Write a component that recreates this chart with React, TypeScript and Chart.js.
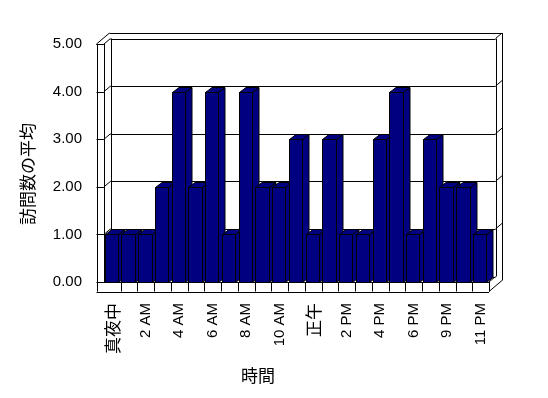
import React, { useEffect, useRef } from "react";
import { Chart, registerables } from "chart.js";

Chart.register(...registerables);

const categories = [
  "真夜中", "1 AM", "2 AM", "3 AM", "4 AM", "5 AM", "6 AM", "7 AM", "8 AM", "9 AM", "10 AM", "11 AM",
  "正午", "1 PM", "2 PM", "3 PM", "4 PM", "5 PM", "6 PM", "7 PM", "9 PM", "10 PM", "11 PM",
];
const visitAverages = [1, 1, 1, 2, 4, 2, 4, 1, 4, 2, 2, 3, 1, 3, 1, 1, 3, 4, 1, 3, 2, 2, 1];
const yTicks = [0, 1, 2, 3, 4, 5];
const yTitle = "訪問数の平均";
const xTitle = "時間";

const LATIN = '"Liberation Sans", Arial, "Noto Sans CJK JP", sans-serif';
const CJK = '"Noto Sans CJK JP", "Liberation Sans", sans-serif';
const NAVY = "#000080";

const snap = (v: number) => Math.round(v) + 0.5;

const excel3d = {
  id: "excel3d",
  beforeDatasetsDraw(chart: any) {
    const { ctx, chartArea: ca, scales } = chart;
    const y = scales.y;
    const L = ca.left, R = ca.right;
    const yT = y.getPixelForValue(yTicks[yTicks.length - 1]);
    const yB = y.getPixelForValue(yTicks[0]);
    const DX = 6.5, DY = -5.5, T = 7.5, F = 9.5;
    ctx.save();
    ctx.strokeStyle = "#000";
    ctx.lineWidth = 1;
    const seg = (x1: number, y1: number, x2: number, y2: number) => {
      ctx.beginPath(); ctx.moveTo(x1, y1); ctx.lineTo(x2, y2); ctx.stroke();
    };
    const hl = (yy: number, x1: number, x2: number) => seg(x1, snap(yy), x2, snap(yy));
    const vl = (xx: number, y1: number, y2: number) => seg(snap(xx), y1, snap(xx), y2);

    // back wall inner face
    hl(yT + DY, L + DX, R + DX);
    vl(L + DX, yT + DY, yB + DY);
    vl(R + DX, yT + DY, yB + DY);
    hl(yB + DY, L + DX, R + DX);
    // outer back
    hl(yT + 2 * DY, L - T + 2 * DX, R + 2 * DX);
    vl(R + 2 * DX, yT + 2 * DY, yB + F + 2 * DY);
    seg(R + DX, yT + DY, R + 2 * DX, yT + 2 * DY);
    // left slab
    vl(L - T, yT, yB + F);
    vl(L, yT, yB);
    hl(yT, L - T, L);
    seg(L - T, yT, L - T + 2 * DX, yT + 2 * DY);
    seg(L, yT, L + DX, yT + DY);
    // gridlines
    yTicks.forEach((v) => {
      const py = y.getPixelForValue(v);
      hl(py, L - T, L);
      if (v > yTicks[0] && v < yTicks[yTicks.length - 1]) {
        hl(py + DY, L + DX, R + DX);
        seg(L, py, L + DX, py + DY);
        seg(R + DX, py + DY, R + 2 * DX, py + 2 * DY);
      }
    });
    // floor
    hl(yB, L, R);
    hl(yB + F, L - T, R);
    vl(R, yB, yB + F);
    const cw = (R - L) / categories.length;
    for (let k = 1; k < categories.length; k++) vl(L + k * cw, yB, yB + F);
    seg(R, yB + F, R + 2 * DX, yB + F + 2 * DY);
    seg(R, yB, R + DX, yB + DY);
    ctx.restore();
  },
  afterDatasetsDraw(chart: any) {
    const { ctx } = chart;
    const meta = chart.getDatasetMeta(0);
    const DX = 6.5, DY = -5;
    ctx.save();
    ctx.strokeStyle = "#000";
    ctx.lineWidth = 1;
    ctx.fillStyle = NAVY;
    meta.data.forEach((el: any) => {
      const w = el.width;
      const xl = Math.round(el.x - w / 2 - 1) + 0.5;
      const xr = Math.round(el.x + w / 2 - 1) + 0.5;
      const top = Math.round(el.y) + 0.5;
      const base = Math.round(el.base) + 0.5;
      ctx.beginPath();
      ctx.rect(xl, top, xr - xl, base - top);
      ctx.fill(); ctx.stroke();
      ctx.beginPath();
      ctx.moveTo(xr, top); ctx.lineTo(xr + DX, top + DY); ctx.lineTo(xr + DX, base + DY); ctx.lineTo(xr, base);
      ctx.closePath(); ctx.fill(); ctx.stroke();
      ctx.beginPath();
      ctx.moveTo(xl, top); ctx.lineTo(xl + DX, top + DY); ctx.lineTo(xr + DX, top + DY); ctx.lineTo(xr, top);
      ctx.closePath(); ctx.fill(); ctx.stroke();
    });
    ctx.restore();
  },
  afterDraw(chart: any) {
    const { ctx } = chart;
    ctx.save();
    ctx.fillStyle = "#000";
    ctx.font = `17px ${CJK}`;
    ctx.textAlign = "center";
    ctx.textBaseline = "middle";
    ctx.fillText(xTitle, 258, 376);
    ctx.translate(28, 174);
    ctx.rotate(-Math.PI / 2);
    ctx.fillText(yTitle, 0, 0);
    ctx.restore();
  },
};

export default function App() {
  const ref = useRef<HTMLCanvasElement | null>(null);
  useEffect(() => {
    if (!ref.current) return;
    const chart = new Chart(ref.current, {
      type: "bar",
      data: {
        labels: categories,
        datasets: [
          {
            label: yTitle,
            data: visitAverages,
            backgroundColor: NAVY,
            borderColor: "#000",
            borderWidth: 1,
            barPercentage: 0.8,
            categoryPercentage: 1,
          },
        ],
      },
      options: {
        responsive: false,
        animation: false,
        devicePixelRatio: 1,
        layout: { padding: { left: 0, top: 44, right: 59, bottom: 0 } },
        plugins: { legend: { display: false }, tooltip: { enabled: false }, title: { display: false } },
        scales: {
          x: {
            grid: { display: false, drawTicks: false },
            border: { display: false },
            ticks: {
              autoSkip: false,
              minRotation: 90,
              maxRotation: 90,
              padding: 21,
              color: "#000",
              font: (c: any) => {
                const lbl = categories[c.index] || "";
                return /[\u3000-\u9fff]/.test(lbl) ? { family: CJK, size: 17 } : { family: LATIN, size: 15 };
              },
              callback: (_v: any, i: number) => (i % 2 === 0 ? categories[i] : ""),
            },
            afterFit: (s: any) => { s.height = 116; },
          },
          y: {
            min: yTicks[0],
            max: yTicks[yTicks.length - 1],
            grid: { display: false, drawTicks: false },
            border: { display: false },
            ticks: {
              stepSize: 1,
              padding: 22,
              color: "#000",
              font: { family: LATIN, size: 15 },
              callback: (v: any) => Number(v).toFixed(2),
            },
            afterFit: (s: any) => { s.width = 104; },
          },
        },
      },
      plugins: [excel3d],
    });
    return () => chart.destroy();
  }, []);
  return (
    <div style={{ position: "fixed", left: 0, top: 0, width: 548, height: 398, background: "#fff" }}>
      <canvas ref={ref} width={548} height={398} />
    </div>
  );
}
